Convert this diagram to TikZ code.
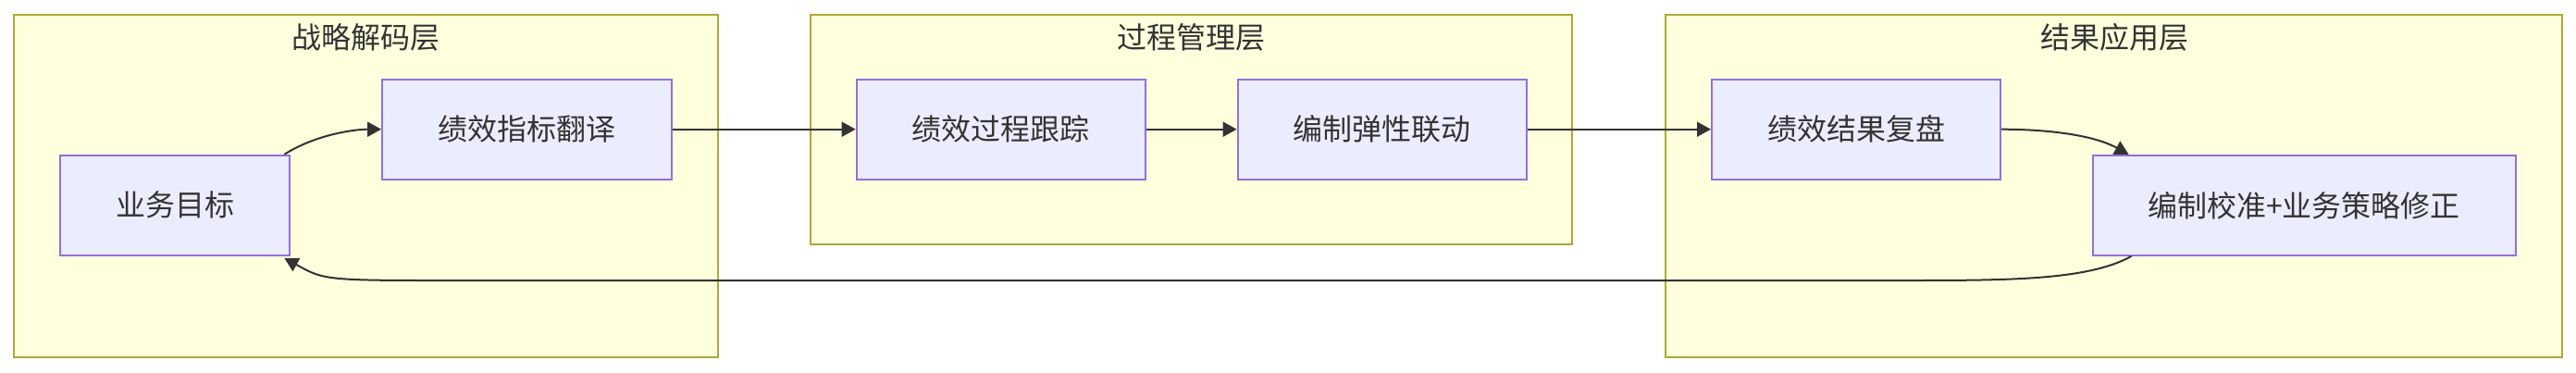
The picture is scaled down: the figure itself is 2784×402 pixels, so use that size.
\documentclass[tikz,border=0pt]{standalone}
\usepackage{fontspec}
\newfontfamily\cjk{Noto Sans CJK SC}
\usetikzlibrary{arrows.meta}
\definecolor{clfill}{HTML}{FFFFDE}
\definecolor{cldraw}{HTML}{AAAA33}
\definecolor{ndfill}{HTML}{ECECFF}
\definecolor{nddraw}{HTML}{9370DB}
\definecolor{txt}{HTML}{333333}
\tikzset{
  cluster/.style={draw=cldraw, fill=clfill, line width=2pt},
  cltitle/.style={text=txt, font=\cjk\fontsize{32}{38}\selectfont, inner sep=0pt},
  box/.style={draw=nddraw, fill=ndfill, line width=2pt, text=txt,
    font=\cjk\fontsize{32}{38}\selectfont, inner sep=0pt, minimum height=108pt},
  arr/.style={draw=txt, line width=2pt, -{Triangle[length=15pt,width=16pt]}},
}
\begin{document}
\begin{tikzpicture}[x=1pt,y=-1pt]
\useasboundingbox (0,0) rectangle (2784,402);
% clusters
\draw[cluster] (15.3,15.7) rectangle (775.5,385.7);
\draw[cluster] (876,15.7) rectangle (1699,264);
\draw[cluster] (1800,15.7) rectangle (2769,385.7);
\node[cltitle] (t1) at (395,40) {战略解码层};
\node[cltitle] (t2) at (1287,40) {过程管理层};
\node[cltitle] (t3) at (2285,40) {结果应用层};
% nodes
\node[box, minimum width=248pt] (biz) at (189.3,221.8) {业务目标};
\node[box, minimum width=312.5pt] (kpi) at (569.3,139.7) {绩效指标翻译};
\node[box, minimum width=312pt] (trk) at (1081.7,139.7) {绩效过程跟踪};
\node[box, minimum width=312pt] (lnk) at (1493.6,139.7) {编制弹性联动};
\node[box, minimum width=312pt] (rev) at (2006,139.7) {绩效结果复盘};
\node[box, minimum width=457pt] (cal) at (2490,221.8) {编制校准+业务策略修正};
% connectors
\draw[arr] ([xshift=-7pt]biz.north east) .. controls +(35,-22) and +(-28,0) .. (kpi.west);
\draw[arr] (kpi.east) -- (trk.west);
\draw[arr] (trk.east) -- (lnk.west);
\draw[arr] (lnk.east) -- (rev.west);
\draw[arr] (rev.east) .. controls +(45,0) and +(-40,-22) .. ([xshift=40pt]cal.north west);
\coordinate (fbR) at (2068,303);
\coordinate (fbL) at (459,303);
\draw[arr] ([xshift=43pt]cal.south west) .. controls +(-45,25) and +(110,0) .. (fbR) -- (fbL) .. controls +(-110,0) and +(40,22) .. ([xshift=-7pt,yshift=-2pt]biz.south east);
\end{tikzpicture}
\end{document}
